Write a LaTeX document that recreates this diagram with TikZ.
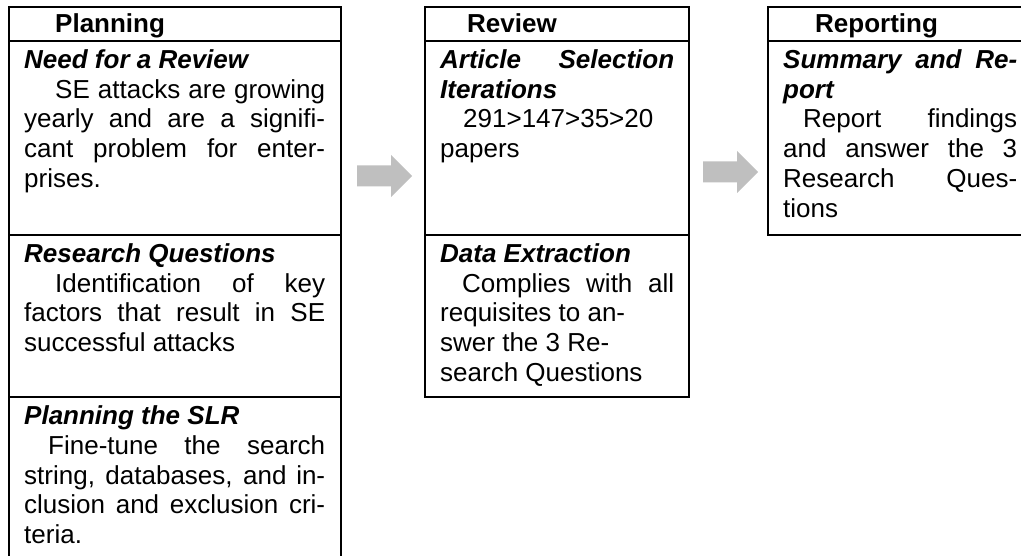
\documentclass[tikz,border=0pt]{standalone}
\usepackage{fontspec}
\setmainfont{Liberation Sans}
\definecolor{arrowgray}{HTML}{BFBFBF}
\setlength{\parindent}{0pt}
\tolerance=10000
\hyphenpenalty=10000
\exhyphenpenalty=10000
\newcommand\sectitle[1]{\strut{\bfseries\itshape #1}\par}
\begin{document}
\begin{tikzpicture}[x=1pt,y=-1pt,
  frame/.style={draw=black, line width=2.2pt, inner sep=0pt, outer sep=0pt, anchor=north west, rectangle},
  rule/.style={draw=black, line width=2.2pt},
  head/.style={anchor=base west, inner sep=0pt, font=\fontsize{26}{29.9}\selectfont\bfseries},
  body/.style={anchor=north west, inner sep=0pt, align=justify, font=\fontsize{26}{29.9}\selectfont},
  flow/.style={fill=arrowgray, draw=none}
]
\useasboundingbox (0,0) rectangle (1021,556);
\clip (0,0) rectangle (1021,556);

% boxes
\node[frame, minimum width=332pt, minimum height=600pt] (plan) at (9,7) {};
\node[frame, minimum width=264pt, minimum height=390pt] (rev) at (425,7) {};
\node[frame, minimum width=264pt, minimum height=228pt] (rep) at (768,7) {};

% separators
\draw[rule] (plan.west |- 0,41) -- (plan.east |- 0,41);
\draw[rule] (plan.west |- 0,235) -- (plan.east |- 0,235);
\draw[rule] (plan.west |- 0,397) -- (plan.east |- 0,397);
\draw[rule] (rev.west |- 0,41) -- (rev.east |- 0,41);
\draw[rule] (rev.west |- 0,235) -- (rev.east |- 0,235);
\draw[rule] (rep.west |- 0,41) -- (rep.east |- 0,41);

% headers
\node[head] (hplan) at (55,33) {Planning};
\node[head] (hrev) at (467,33) {Review};
\node[head] (hrep) at (815,33) {Reporting};

% Planning sections
\node[body, text width=301pt] (need) at (24,47.07) {\sectitle{Need for a Review}\hspace*{31pt}SE attacks are growing\linebreak yearly and are a signifi-\linebreak cant problem for enter-\linebreak prises.};
\node[body, text width=301pt] (rq) at (24,241.07) {\sectitle{Research Questions}\hspace*{31pt}Identification of key\linebreak factors that result in SE\linebreak successful attacks};
\node[body, text width=301pt] (slr) at (24,403.07) {\sectitle{Planning the SLR}\hspace*{24pt}Fine-tune the search\linebreak string, databases, and in-\linebreak clusion and exclusion cri-\linebreak teria.};

% Review sections
\node[body, text width=234pt] (asi) at (440,47.07) {\strut{\bfseries\itshape Article Selection\linebreak Iterations}\par\hspace*{23pt}291>147>35>20\linebreak papers};
\node[body, text width=234pt] (dex) at (440,241.07) {\sectitle{Data Extraction}\hspace*{22pt}Complies with all\linebreak requisites to an-\newline swer the 3 Re-\newline search Questions};

% Reporting section
\node[body, text width=234pt] (sar) at (783,47.07) {\strut{\bfseries\itshape Summary and Re-\linebreak port}\par\hspace*{20pt}Report findings\linebreak and answer the 3\linebreak Research Ques-\linebreak tions};

% block arrows
\coordinate (a1) at (357,176);
\coordinate (a2) at (703,172);
\fill[flow] (a1) ++(0,-10.5) -- ++(34,0) -- ++(0,-10.5) -- ++(21,21) -- ++(-21,21) -- ++(0,-10.5) -- ++(-34,0) -- cycle;
\fill[flow] (a2) ++(0,-10.5) -- ++(34,0) -- ++(0,-10.5) -- ++(21,21) -- ++(-21,21) -- ++(0,-10.5) -- ++(-34,0) -- cycle;
\end{tikzpicture}
\end{document}
